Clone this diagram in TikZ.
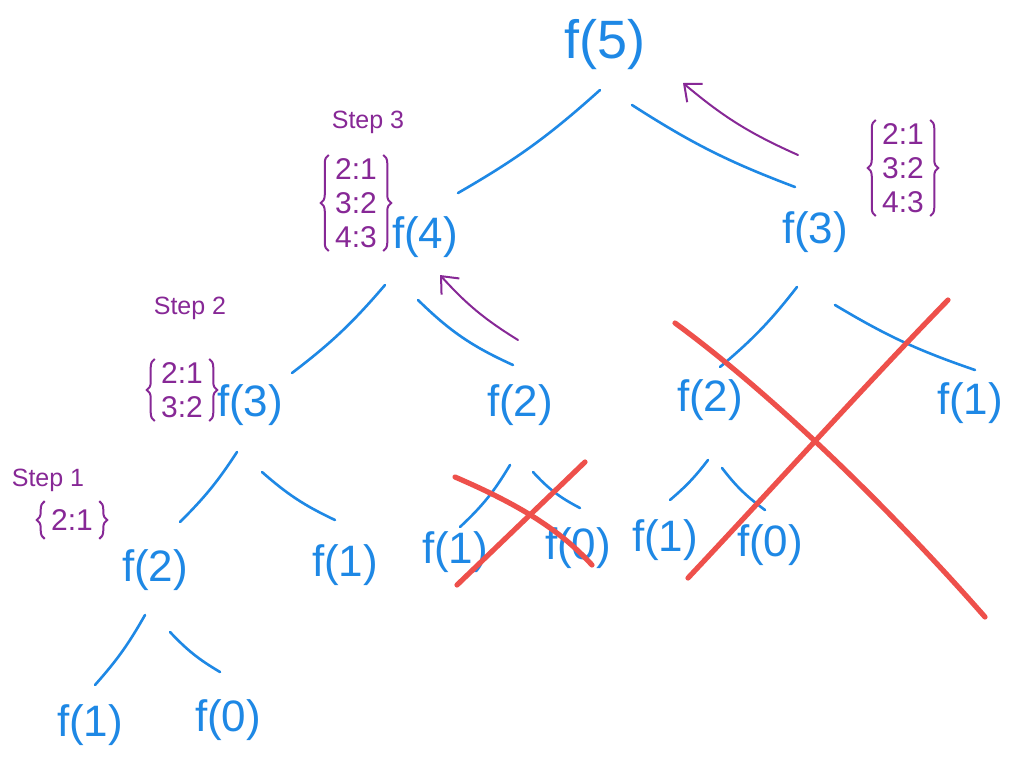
\documentclass[tikz,border=0pt]{standalone}
\usepackage{fontspec}
\setmainfont{Liberation Sans}
\usetikzlibrary{arrows.meta,decorations.pathreplacing}
\definecolor{pen}{RGB}{30,136,229}
\definecolor{ink}{RGB}{135,40,150}
\definecolor{crossred}{RGB}{238,80,75}
\begin{document}
\begin{tikzpicture}[x=0.5pt,y=-0.5pt,
  fn/.style={text=pen, font=\fontsize{22}{24}\selectfont, inner sep=0pt},
  fbig/.style={fn, font=\fontsize{27}{29}\selectfont},
  edge/.style={draw=pen, line width=1.3pt, line cap=round},
  memo/.style={text=ink, font=\fontsize{15}{17}\selectfont, inner xsep=3pt, inner ysep=1.5pt, align=center},
  curly/.style={draw=ink, line width=1pt, decorate, decoration={brace, amplitude=4pt}},
  steplabel/.style={text=ink, font=\fontsize{12.5}{14}\selectfont, inner sep=0pt},
  back/.style={draw=ink, line width=1pt, line cap=round, -{Straight Barb[length=7pt,width=12pt]}},
  xout/.style={draw=crossred, line width=2.6pt, line cap=round}]
\useasboundingbox (0,0) rectangle (1024,782);
\fill[white] (0,0) rectangle (1024,782);

% tree nodes
\node[fbig] (f5) at (605,45) {f(5)};
\node[fn] (f4) at (425,237) {f(4)};
\node[fn] (f3) at (815,232) {f(3)};
\node[fn] (f3l) at (250,405) {f(3)};
\node[fn] (f2m) at (520,405) {f(2)};
\node[fn] (f2r) at (710,400) {f(2)};
\node[fn] (f1r) at (970,403) {f(1)};
\node[fn] (f2l) at (155,570) {f(2)};
\node[fn] (f1a) at (345,565) {f(1)};
\node[fn] (f1b) at (455,552) {f(1)};
\node[fn] (f0b) at (578,548) {f(0)};
\node[fn] (f1c) at (665,540) {f(1)};
\node[fn] (f0c) at (770,545) {f(0)};
\node[fn] (f1d) at (90,725) {f(1)};
\node[fn] (f0d) at (228,720) {f(0)};

% edges
\draw[edge] ([shift={(-5,45)}]f5.center) to[bend left=6] ([shift={(33,-44)}]f4.center);
\draw[edge] ([shift={(27,60)}]f5.center) to[bend right=6] ([shift={(-20,-45)}]f3.center);
\draw[edge] ([shift={(-40,48)}]f4.center) to[bend left=6] ([shift={(42,-32)}]f3l.center);
\draw[edge] ([shift={(-7,63)}]f4.center) to[bend right=10] ([shift={(-7,-40)}]f2m.center);
\draw[edge] ([shift={(-18,55)}]f3.center) to[bend left=6] ([shift={(10,-33)}]f2r.center);
\draw[edge] ([shift={(20,73)}]f3.center) to[bend right=6] ([shift={(5,-33)}]f1r.center);
\draw[edge] ([shift={(-13,47)}]f3l.center) to[bend left=6] ([shift={(25,-48)}]f2l.center);
\draw[edge] ([shift={(12,67)}]f3l.center) to[bend right=8] ([shift={(-10,-45)}]f1a.center);
\draw[edge] ([shift={(-10,60)}]f2m.center) to[bend left=8] ([shift={(5,-25)}]f1b.center);
\draw[edge] ([shift={(13,67)}]f2m.center) to[bend right=10] ([shift={(2,-40)}]f0b.center);
\draw[edge] ([shift={(-2,60)}]f2r.center) to[bend left=6] ([shift={(5,-40)}]f1c.center);
\draw[edge] ([shift={(12,68)}]f2r.center) to[bend right=8] ([shift={(-5,-35)}]f0c.center);
\draw[edge] ([shift={(-10,45)}]f2l.center) to[bend left=6] ([shift={(5,-40)}]f1d.center);
\draw[edge] ([shift={(15,62)}]f2l.center) to[bend right=8] ([shift={(-8,-48)}]f0d.center);

% memo annotations
\node[steplabel] (s3) at (368,122) {Step 3};
\node[memo] (m3) at (356,203) {2:1\\3:2\\4:3};
\node[steplabel] (s2) at (190,308) {Step 2};
\node[memo] (m2) at (182,390) {2:1\\3:2};
\node[steplabel] (s1) at (48,480) {Step 1};
\node[memo, inner ysep=4pt] (m1) at (72,520) {2:1};
\node[memo] (mr) at (903,168) {2:1\\3:2\\4:3};
\foreach \m in {m3,m2,m1,mr}{
  \draw[curly] (\m.south west) -- (\m.north west);
  \draw[curly] (\m.north east) -- (\m.south east);
}

% return arrows
\draw[back] ([shift={(-17,-77)}]f3.center) to[bend left=8] ([shift={(78,38)}]f5.center);
\draw[back] ([shift={(-2,-65)}]f2m.center) to[bend left=8] ([shift={(15,38)}]f4.center);

% crossings out
\draw[xout] (457,585) -- (585,462);
\draw[xout] (455,477) .. controls (520,505) and (560,530) .. (592,565);
\draw[xout] (688,578) .. controls (780,480) and (870,380) .. (948,300);
\draw[xout] (675,323) .. controls (780,400) and (900,520) .. (985,617);
\end{tikzpicture}
\end{document}
